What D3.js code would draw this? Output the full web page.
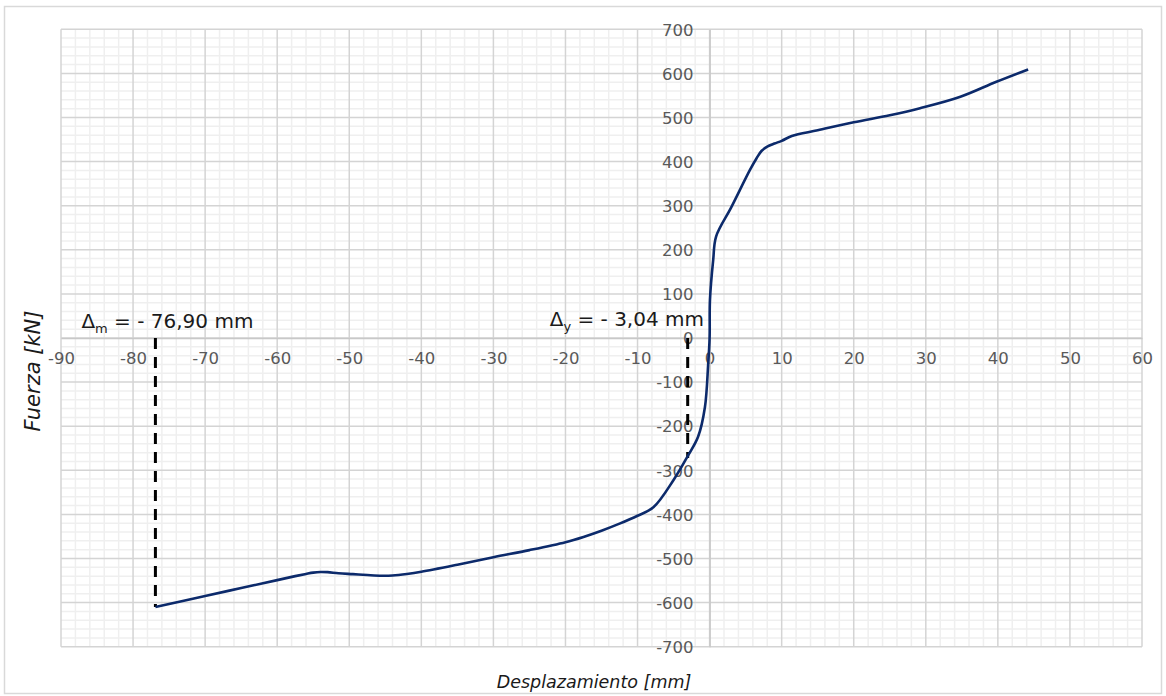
<!DOCTYPE html>
<html>
<head>
<meta charset="utf-8">
<script src="https://cdn.jsdelivr.net/npm/d3@7"></script>
<style>
  body { margin: 0; background: #ffffff; }
  text { font-family: "DejaVu Sans", sans-serif; }
</style>
</head>
<body>
<svg id="chart" width="1166" height="696"></svg>
<script>
// Load–displacement curve (mm, kN)
const displacement = [-76.9, -70, -65, -60, -57.5, -56, -55, -54, -53, -51.5, -49.5, -47.5, -45.5, -44, -42, -40,
  -35, -30, -25, -20, -17.5, -15, -12.5, -10, -7.8, -5.0, -3.04, -1.6, -0.65, -0.2, 0, 0.05, 0.5, 0.9,
  3.0, 5.6, 6.5, 7.2, 8.0, 9.0, 10, 11.4, 15, 20, 25, 29.2, 34.8, 39.8, 44.2];
const force = [-610, -585, -567, -549, -540, -535, -532, -530.5, -531, -533.5, -535.5, -537.5, -539, -538.5, -535, -530,
  -514, -497, -481, -463, -451, -437, -421, -403, -384, -322, -268, -224, -157, -60, 0, 86, 177, 230,
  296, 381, 407, 424, 434, 441, 447, 458, 471, 489, 505, 521, 547, 581, 609];

// Axis ticks
const xTickValues = d3.range(-90, 61, 10);
const yTickValues = d3.range(-700, 701, 100);

// Marked displacements (ultimate and yield)
const markerSubscripts = ["m", "y"];
const markerDisplacement = [-76.90, -3.04];
const markerForce = [-610, -272];

// Layout
const plot = { left: 61, right: 1142, top: 29.3, bottom: 646.7 };
const labelShift = [-74, -138];
const labelLift = [10, 12];

const svg = d3.select("#chart");

const x = d3.scaleLinear().domain([-90, 60]).range([plot.left, plot.right]);
const y = d3.scaleLinear().domain([-700, 700]).range([plot.bottom, plot.top]);

// Chart frame
svg.append("rect")
  .attr("x", 4.5).attr("y", 6.5)
  .attr("width", 1157).attr("height", 687)
  .attr("fill", "#ffffff").attr("stroke", "#d9d9d9").attr("stroke-width", 1.5);

// Minor gridlines
const grid = svg.append("g");
grid.selectAll(".minor-x")
  .data(d3.range(-90, 61, 2).filter(v => v % 10 !== 0))
  .join("line")
  .attr("x1", d => x(d)).attr("x2", d => x(d))
  .attr("y1", plot.top).attr("y2", plot.bottom)
  .attr("stroke", "#efefef").attr("stroke-width", 1.5);
grid.selectAll(".minor-y")
  .data(d3.range(-700, 701, 20).filter(v => v % 100 !== 0))
  .join("line")
  .attr("y1", d => y(d)).attr("y2", d => y(d))
  .attr("x1", plot.left).attr("x2", plot.right)
  .attr("stroke", "#efefef").attr("stroke-width", 1.5);

// Major gridlines
grid.selectAll(".major-x")
  .data(xTickValues)
  .join("line")
  .attr("x1", d => x(d)).attr("x2", d => x(d))
  .attr("y1", plot.top).attr("y2", plot.bottom)
  .attr("stroke", "#d4d4d4").attr("stroke-width", 1.5);
grid.selectAll(".major-y")
  .data(yTickValues)
  .join("line")
  .attr("y1", d => y(d)).attr("y2", d => y(d))
  .attr("x1", plot.left).attr("x2", plot.right)
  .attr("stroke", "#d4d4d4").attr("stroke-width", 1.5);

// Axes crossing at the origin, labelled with a plain hyphen for negatives
const plain = d => String(d);
const xAxis = d3.axisBottom(x).tickValues(xTickValues).tickFormat(plain).tickSize(0).tickPadding(14);
const yAxis = d3.axisLeft(y).tickValues(yTickValues).tickFormat(plain).tickSize(0).tickPadding(16);

const gx = svg.append("g").attr("transform", `translate(0,${y(0)})`).call(xAxis);
const gy = svg.append("g").attr("transform", `translate(${x(0)},0)`).call(yAxis);
[gx, gy].forEach(g => {
  g.select(".domain").attr("stroke", "#c8c8c8").attr("stroke-width", 1.5);
  g.selectAll("text")
    .attr("fill", "#595959")
    .style("font-family", "'DejaVu Sans', sans-serif")
    .style("font-size", "16.5px");
});
gy.selectAll("text").attr("dy", "0.35em");

// Dashed guides for marked displacements
svg.append("g").selectAll("line")
  .data(markerDisplacement)
  .join("line")
  .attr("x1", d => x(d)).attr("x2", d => x(d))
  .attr("y1", y(0)).attr("y2", (d, i) => y(markerForce[i]))
  .attr("stroke", "#000000").attr("stroke-width", 3)
  .attr("stroke-dasharray", "11,8");

// Curve (smoothed through the measured points)
const points = displacement.map((d, i) => [d, force[i]]);
svg.append("path")
  .datum(points)
  .attr("fill", "none")
  .attr("stroke", "#0c2a6b")
  .attr("stroke-width", 2.6)
  .attr("stroke-linejoin", "round")
  .attr("d", d3.line().x(d => x(d[0])).y(d => y(d[1])).curve(d3.curveCatmullRom.alpha(0.5)));

// Marker labels
const fmt = v => (v < 0 ? "- " : "") + Math.abs(v).toFixed(2).replace(".", ",") + " mm";
markerDisplacement.forEach((v, i) => {
  const t = svg.append("text")
    .attr("x", x(v) + labelShift[i])
    .attr("y", y(0) - labelLift[i])
    .attr("fill", "#1a1a1a")
    .style("font-size", "20px");
  t.append("tspan").text("Δ");
  t.append("tspan").attr("dy", 5).style("font-size", "13px").text(markerSubscripts[i]);
  t.append("tspan").attr("dy", -5).text(" = " + fmt(v));
});

// Axis titles
svg.append("text")
  .attr("x", 594).attr("y", 688)
  .attr("text-anchor", "middle")
  .attr("fill", "#1a1a1a")
  .style("font-size", "17.5px")
  .style("font-style", "italic")
  .text("Desplazamiento [mm]");

svg.append("text")
  .attr("transform", "translate(40,371) rotate(-90)")
  .attr("text-anchor", "middle")
  .attr("fill", "#1a1a1a")
  .style("font-size", "21px")
  .style("font-style", "italic")
  .text("Fuerza [kN]");
</script>
</body>
</html>
